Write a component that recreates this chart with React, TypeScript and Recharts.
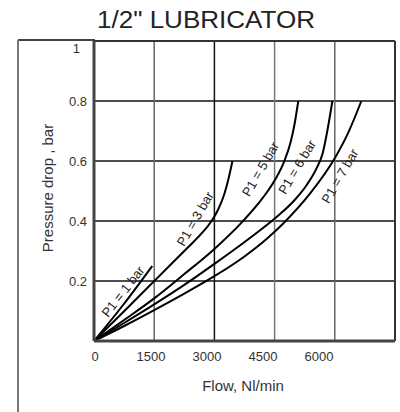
import React from 'react';
import { LineChart, Line, XAxis, YAxis, CartesianGrid, ReferenceLine, ReferenceDot } from 'recharts';

const title = '1/2" LUBRICATOR';
const xAxisTitle = 'Flow, Nl/min';
const yAxisTitle = 'Pressure drop , bar';

const xTicks = [0, 1500, 3000, 4500, 6000, 7500];
const yTicks = [0, 0.2, 0.4, 0.6, 0.8, 1];

const flowP1 = [0, 725, 1450];
const dropP1 = [0, 0.12, 0.25];

const flowP3 = [0, 800, 1600, 2400, 2600, 2800, 2950, 3100, 3250, 3350, 3450];
const dropP3 = [0, 0.106, 0.213, 0.32, 0.347, 0.377, 0.404, 0.44, 0.491, 0.54, 0.6];

const flowP5 = [0, 750, 1500, 2250, 3000, 3700, 4200, 4500, 4750, 4900, 5000, 5090];
const dropP5 = [0, 0.07, 0.142, 0.223, 0.307, 0.398, 0.476, 0.535, 0.602, 0.663, 0.725, 0.8];

const flowP6 = [0, 750, 1500, 2250, 3000, 4000, 4600, 5000, 5300, 5550, 5700, 5820, 5940];
const dropP6 = [0, 0.06, 0.122, 0.187, 0.257, 0.355, 0.419, 0.47, 0.52, 0.577, 0.627, 0.705, 0.8];

const flowP7 = [0, 750, 1500, 2250, 3000, 3740, 4300, 4740, 5380, 5980, 6330, 6662];
const dropP7 = [0, 0.05, 0.103, 0.158, 0.216, 0.281, 0.34, 0.395, 0.491, 0.605, 0.693, 0.8];

const curveLabels = ['P1 = 1 bar', 'P1 = 3 bar', 'P1 = 5 bar', 'P1 = 6 bar', 'P1 = 7 bar'];
const labelFlow = [723, 2520, 4150, 5060, 6130];
const labelDrop = [0.165, 0.407, 0.573, 0.58, 0.55];
const labelAngle = [-52, -60, -60, -59, -60];

const toSeries = (xs: number[], ys: number[]) => xs.map((x, i) => ({ x, y: ys[i] }));

const series = [
  toSeries(flowP1, dropP1),
  toSeries(flowP3, dropP3),
  toSeries(flowP5, dropP5),
  toSeries(flowP6, dropP6),
  toSeries(flowP7, dropP7),
];

const FONT = '"Liberation Sans", Arial, Helvetica, sans-serif';

const XTick = (props: any) => {
  const { x, y, payload } = props;
  if (payload.value === 7500) return null;
  const lx = 95 + (x - 94) * 0.93;
  return (
    <text x={lx} y={y + 12} textAnchor="middle" fontSize={13} fontFamily={FONT} fill="#333">
      {payload.value}
    </text>
  );
};

const YTick = (props: any) => {
  const { x, y, payload } = props;
  if (payload.value === 0) return null;
  const isTop = payload.value === 1;
  return (
    <text x={isTop ? x - 6 : x + 1} y={isTop ? y + 12 : y + 4.5} textAnchor="end" fontSize={13} fontFamily={FONT} fill="#333">
      {payload.value}
    </text>
  );
};

const gridX = [1500, 3000, 4500, 6000];
const gridXColor = ['#666', '#111', '#777', '#666'];

export default function App() {
  return (
    <div style={{ position: 'absolute', left: 0, top: 0, width: 400, height: 412, background: '#fff', overflow: 'hidden' }}>
      <svg width={400} height={412} style={{ position: 'absolute', left: 0, top: 0 }}>
        <text x={206} y={28} textAnchor="middle" fontSize={23} textLength={218} lengthAdjust="spacingAndGlyphs" fontFamily={FONT} fill="#222">{title}</text>
        <line x1={18} y1={40} x2={95} y2={40} stroke="#444" strokeWidth={2} />
        <line x1={18} y1={40} x2={18} y2={412} stroke="#777" strokeWidth={2} />
        <text x={243} y={391} textAnchor="middle" fontSize={15} fontFamily={FONT} fill="#333">{xAxisTitle}</text>
        <text transform="translate(53,188) rotate(-90)" x={0} y={0} textAnchor="middle" fontSize={15} fontFamily={FONT} fill="#333">{yAxisTitle}</text>
      </svg>
      <div style={{ position: 'absolute', left: 0, top: 0 }}>
        <LineChart width={400} height={412} margin={{ top: 41, right: 5, bottom: 41, left: 54 }}>
          <CartesianGrid vertical={false} stroke="#111" strokeWidth={1.3} horizontalValues={[0.2, 0.4, 0.6, 0.8]} />
          {gridX.map((gx, i) => (
            <ReferenceLine key={gx} x={gx} stroke={gridXColor[i]} strokeWidth={1.5} />
          ))}
          <ReferenceLine x={7500} stroke="#333" strokeWidth={2} />
          <ReferenceLine y={1} stroke="#333" strokeWidth={2} />
          <XAxis
            type="number"
            dataKey="x"
            domain={[0, 7500]}
            ticks={xTicks}
            tick={<XTick />}
            tickLine={false}
            axisLine={{ stroke: '#444', strokeWidth: 3 }}
            height={30}
            allowDataOverflow
          />
          <YAxis
            type="number"
            dataKey="y"
            domain={[0, 1]}
            ticks={yTicks}
            tick={<YTick />}
            tickLine={false}
            axisLine={{ stroke: '#444', strokeWidth: 3 }}
            width={40}
            allowDataOverflow
          />
          {series.map((d, i) => (
            <Line
              key={i}
              data={d}
              dataKey="y"
              type="monotone"
              stroke="#000"
              strokeWidth={2}
              dot={false}
              activeDot={false}
              isAnimationActive={false}
            />
          ))}
          {curveLabels.map((t, i) => (
            <ReferenceDot
              key={t}
              x={labelFlow[i]}
              y={labelDrop[i]}
              r={0}
              ifOverflow="visible"
              shape={(p: any) => (
                <text
                  x={p.cx}
                  y={p.cy}
                  transform={`rotate(${labelAngle[i]}, ${p.cx}, ${p.cy})`}
                  textAnchor="middle"
                  dominantBaseline="central"
                  fontSize={13}
                  fontFamily={FONT}
                  fill="#222"
                >
                  {t}
                </text>
              )}
            />
          ))}
        </LineChart>
      </div>
    </div>
  );
}
